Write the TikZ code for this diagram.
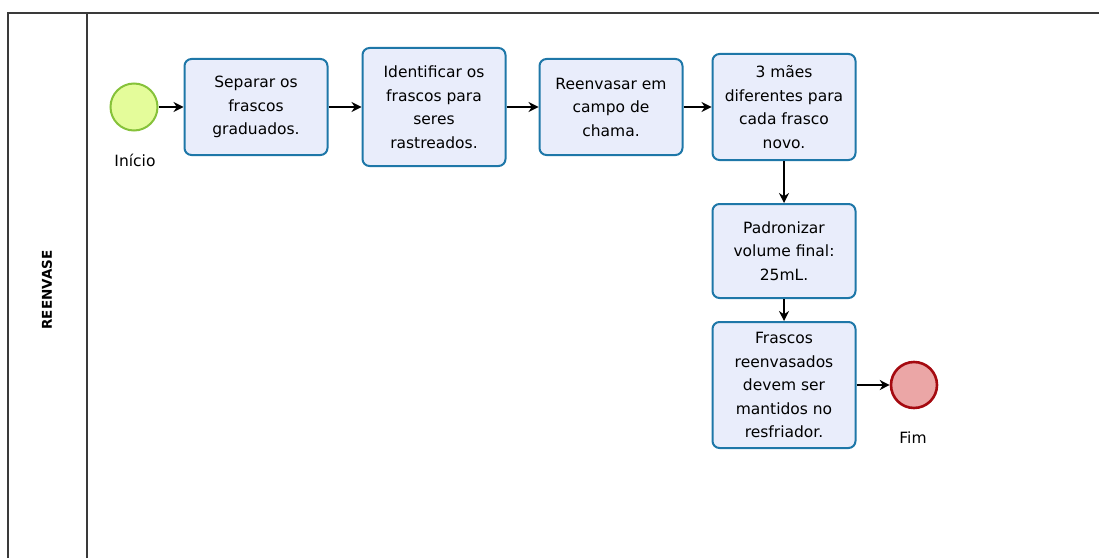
\documentclass[tikz,border=0pt]{standalone}
\usepackage{fontspec}
\setmainfont{DejaVu Sans}
\usetikzlibrary{positioning, arrows.meta}

\definecolor{taskfill}{HTML}{E9EDFB}
\definecolor{taskline}{HTML}{1E77A8}
\definecolor{startfill}{HTML}{E4FC9A}
\definecolor{startline}{HTML}{86C23A}
\definecolor{endfill}{HTML}{EBA6A6}
\definecolor{endline}{HTML}{A50A10}
\definecolor{poolline}{HTML}{3A3A3A}

\tikzset{
  task/.style={draw=taskline, fill=taskfill, line width=2pt, rounded corners=7pt,
    minimum width=143pt, align=center, inner sep=2pt,
    font=\fontsize{15.5}{23.5}\selectfont},
  startev/.style={circle, draw=startline, fill=startfill, line width=2pt, minimum size=47pt},
  endev/.style={circle, draw=endline, fill=endfill, line width=2.6pt, minimum size=46pt},
  evlabel/.style={font=\fontsize{15.5}{18}\selectfont},
  pool/.style={draw=poolline, line width=1.6pt}
}

\begin{document}
\begin{tikzpicture}[->,>={Stealth[length=10pt,width=10pt]},line width=1.2pt,node distance=30pt]
  \useasboundingbox (0,0) rectangle (1099pt,558pt);

  % pool and lane
  \draw[pool,-] (8pt,0) -- (8pt,545pt) -- (1099pt,545pt);
  \draw[pool,-] (87pt,0) -- (87pt,545pt);
  \node[rotate=90, font=\fontsize{13.5}{15}\bfseries\selectfont] (lane) at (47pt,268pt) {REENVASE};

  % events and tasks
  \node[startev] (inicio) at (134pt,451pt) {};
  \node[evlabel] (inicioLbl) at (135pt,398pt) {Início};

  \node[task, minimum height=96pt] (separar) at (256pt,451pt) {Separar os\\frascos\\graduados.};
  \node[task, minimum height=118pt] (identificar) at (434pt,451pt) {Identificar os\\frascos para\\seres\\rastreados.};
  \node[task, minimum height=96pt] (reenvasar) at (611pt,451pt) {Reenvasar em\\campo de\\chama.};
  \node[task, minimum height=106pt] (maes) at (784pt,451pt) {3 mães\\diferentes para\\cada frasco\\novo.};
  \node[task, minimum height=94pt] (padronizar) at (784pt,307pt) {Padronizar\\volume final:\\25mL.};
  \node[task, minimum height=126pt] (frascos) at (784pt,173pt) {Frascos\\reenvasados\\devem ser\\mantidos no\\resfriador.};

  \node[endev] (fim) at (914pt,173pt) {};
  \node[evlabel] (fimLbl) at (913pt,120pt) {Fim};

  \path
  (inicio) edge (separar)
  (separar) edge (identificar)
  (identificar) edge (reenvasar)
  (reenvasar) edge (maes)
  (maes) edge (padronizar)
  (padronizar) edge (frascos)
  (frascos) edge (fim)
  ;
\end{tikzpicture}
\end{document}
